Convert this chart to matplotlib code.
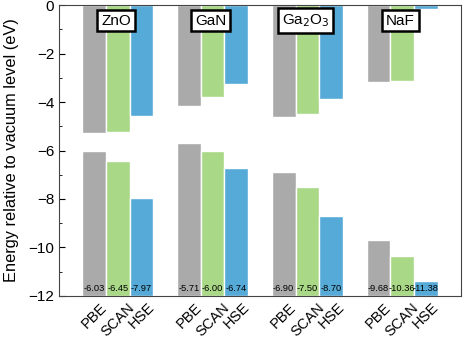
import matplotlib
matplotlib.use("Agg")
import matplotlib.pyplot as plt
import numpy as np
from matplotlib.ticker import MultipleLocator

plt.rcParams['font.family'] = ['Liberation Sans', 'DejaVu Sans']

materials = ["ZnO", "GaN", "Ga$_2$O$_3$", "NaF"]
methods = ["PBE", "SCAN", "HSE"]
colors = ["#aaaaaa", "#a9d886", "#56aad8"]

# conduction band minimum and valence band maximum (eV), rows = materials, cols = methods
cbm = np.array([
    [-5.27, -5.25, -4.56],
    [-4.16, -3.79, -3.26],
    [-4.60, -4.51, -3.86],
    [-3.18, -3.12, -0.18],
])
vbm = np.array([
    [-6.03, -6.45, -7.97],
    [-5.71, -6.00, -6.74],
    [-6.90, -7.50, -8.70],
    [-9.68, -10.36, -11.38],
])

ymin = -12
width = 0.25

fig = plt.figure(figsize=(4.63, 3.41), dpi=100)
ax = fig.add_axes([0.1274, 0.132, 0.8683, 0.8533])

tick_pos = []
tick_lab = []
for i, mat in enumerate(materials):
    for j, meth in enumerate(methods):
        x = i + (j - 1) * width
        # conduction band: from vacuum (0) down to CBM
        ax.bar(x, cbm[i, j], width=width, bottom=0, color=colors[j],
               edgecolor="white", linewidth=1)
        # valence band: from bottom up to VBM
        ax.bar(x, vbm[i, j] - ymin, width=width, bottom=ymin, color=colors[j],
               edgecolor="white", linewidth=1)
        ax.text(x, -11.68, f"{vbm[i, j]:.2f}", ha="center", va="center", fontsize=6.7)
        tick_pos.append(x)
        tick_lab.append(meth)
    ax.text(i - 0.02, -0.64, mat, ha="center", va="center", fontsize=11,
            bbox=dict(boxstyle="square,pad=0.25", facecolor="white", edgecolor="black", linewidth=1.8))

ax.set_xlim(-0.62, 3.62)
ax.set_ylim(ymin, 0)
ax.set_xticks(tick_pos)
ax.set_xticklabels(tick_lab, rotation=45, ha="center", va="top", fontsize=10.5)
ax.tick_params(axis="x", length=0, pad=3)
ax.yaxis.set_major_locator(MultipleLocator(2))
ax.yaxis.set_minor_locator(MultipleLocator(1))
ax.tick_params(axis="y", which="both", direction="in", labelsize=11, right=False)
ax.tick_params(axis="y", which="major", length=4)
ax.tick_params(axis="y", which="minor", length=2)
ax.set_ylabel("Energy relative to vacuum level (eV)", fontsize=11.8, labelpad=7)

for s in ax.spines.values():
    s.set_color("#444444")

fig.savefig("out.png", dpi=100)
